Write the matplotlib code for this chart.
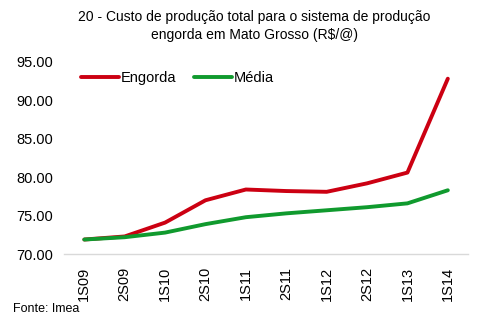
#!/usr/bin/env python3
"""Custo de produção total - engorda vs média, Mato Grosso."""
import matplotlib
matplotlib.use("Agg")
import matplotlib.pyplot as plt

periods = ["1S09", "2S09", "1S10", "2S10", "1S11", "2S11", "1S12", "2S12", "1S13", "1S14"]
engorda = [71.9, 72.3, 74.1, 77.0, 78.4, 78.2, 78.1, 79.2, 80.6, 92.8]
media = [71.9, 72.2, 72.8, 73.9, 74.8, 75.3, 75.7, 76.1, 76.6, 78.3]
yticks = [70, 75, 80, 85, 90, 95]

plt.rcParams["font.family"] = ["Liberation Sans", "DejaVu Sans"]

fig = plt.figure(figsize=(4.82, 3.25), dpi=100)
ax = fig.add_axes([0.133, 0.218, 0.838, 0.592])

x = range(len(periods))
ax.plot(x, engorda, color="#CC0012", linewidth=2.8, label="Engorda", solid_capstyle="round")
ax.plot(x, media, color="#109A2E", linewidth=2.8, label="Média", solid_capstyle="round")

ax.set_xlim(-0.5, len(periods) - 0.5)
ax.set_ylim(70, 95)
ax.set_yticks(yticks)
ax.set_yticklabels([f"{v:.2f}" for v in yticks], fontsize=10.5)
ax.set_xticks(list(x))
ax.set_xticklabels(periods, rotation=90, fontsize=10.5)
ax.tick_params(axis="both", length=0, pad=8)
ax.tick_params(axis="x", pad=9)

for side in ["top", "right", "left"]:
    ax.spines[side].set_visible(False)
ax.spines["bottom"].set_color("#D9D9D9")
ax.spines["bottom"].set_linewidth(1.0)

ax.legend(loc="upper left", bbox_to_anchor=(0.02, 0.995), ncol=2, frameon=False,
          fontsize=10.5, handlelength=2.6, handletextpad=0.15, columnspacing=1.2,
          borderaxespad=0.2)

fig.text(0.527, 0.968, "20 - Custo de produção total para o sistema de produção\n"
         "engorda em Mato Grosso (R$/@)", ha="center", va="top", fontsize=10,
         linespacing=1.3)
fig.text(0.027, 0.048, "Fonte: Imea", ha="left", va="center", fontsize=9)

fig.savefig("out.png", dpi=100)
